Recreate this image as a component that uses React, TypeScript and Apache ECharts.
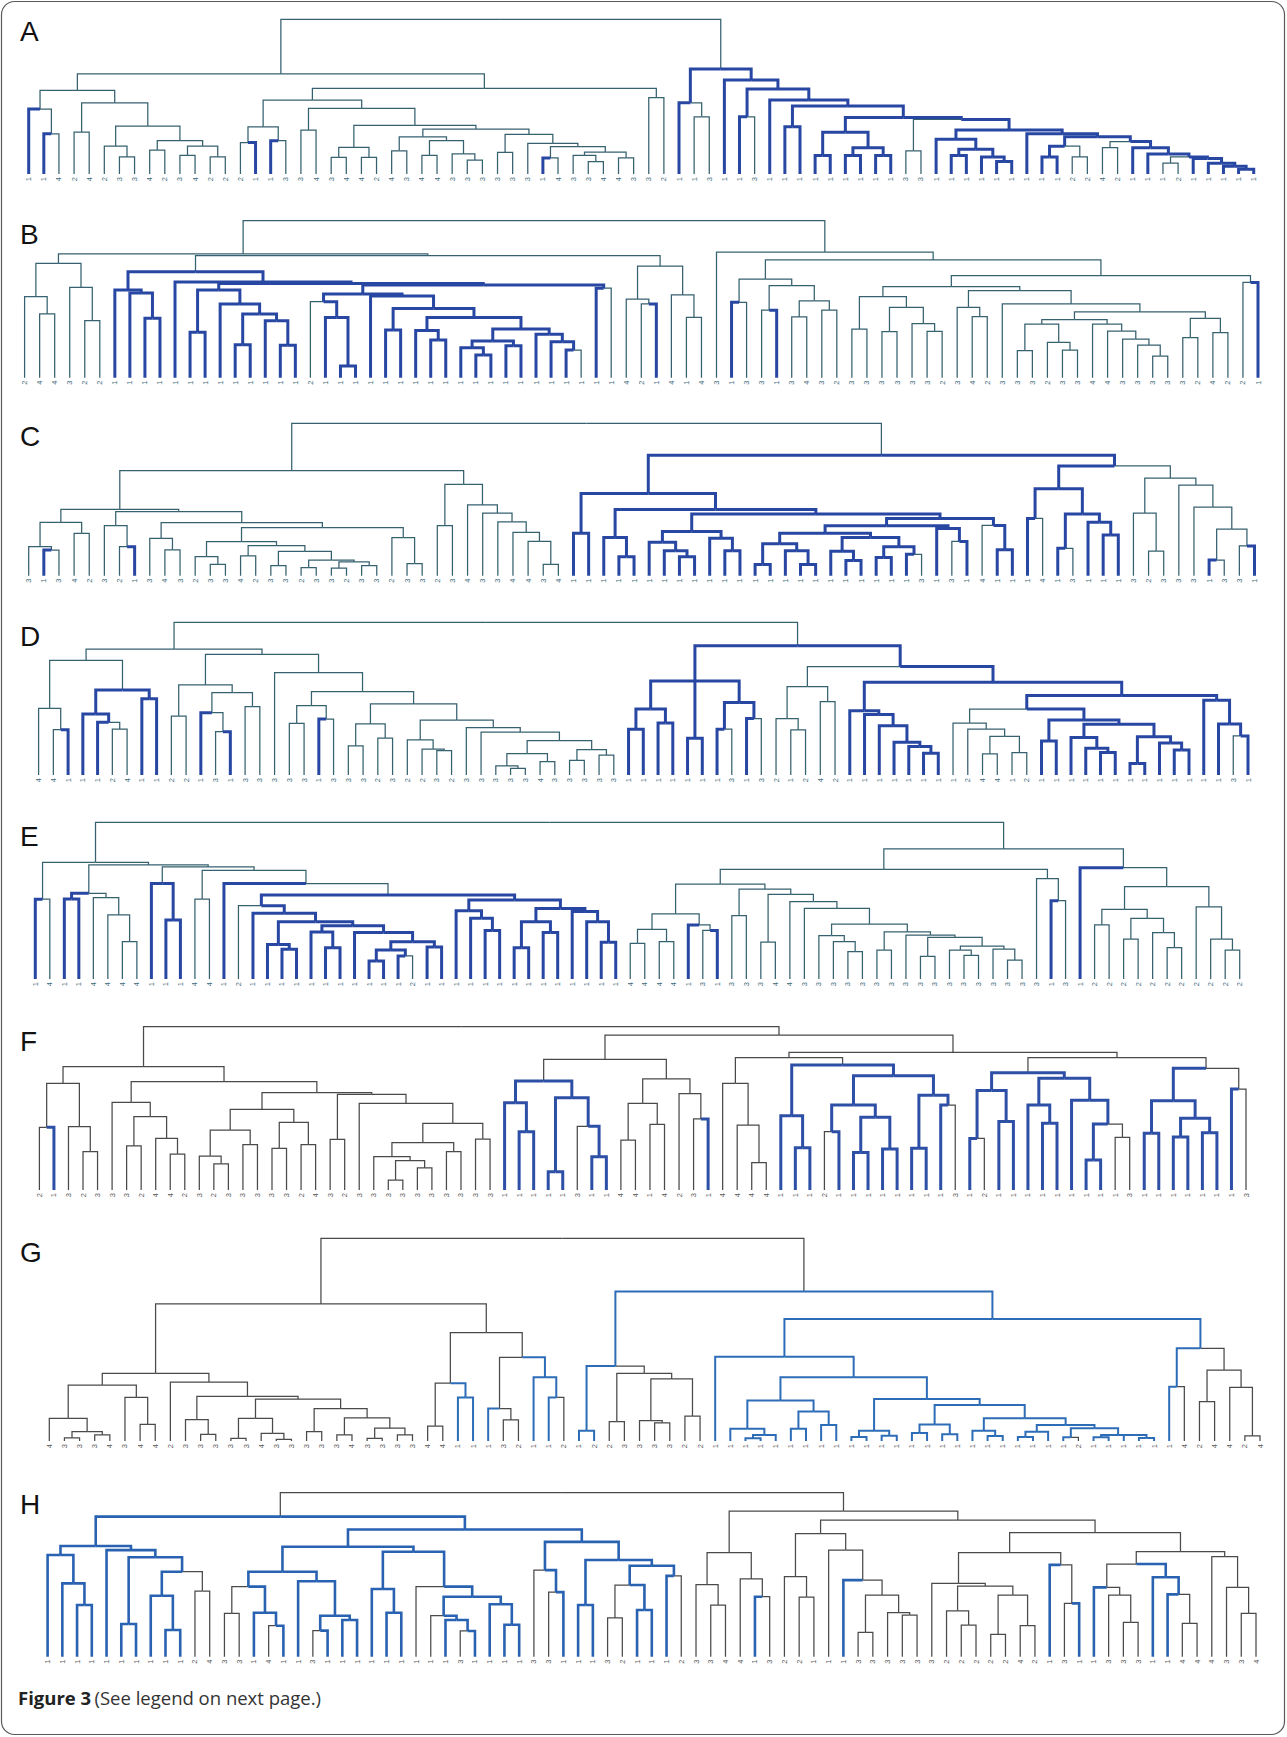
import React, { useEffect, useRef } from "react";
import * as echarts from "echarts";

// Tree notation: (height child child ...), leaves are class labels 1-4.
// "*" marks a subtree drawn in blue, "~" marks a subtree drawn in the plain colour.

// ---------- A ----------
const treeA_L1 = "(54 (42 *1 (26 *1 4)) (46 (27 2 4) (31 (18 2 (11 3 3)) (21.5 (15.5 4 2) (18 (12 3 4) (11 2 2))))))";
const treeA_L2 =
  "(55.4 (47.8 (30.4 (20.3 2 *1) (21.5 *1 3)) (42.5 (28.4 3 4) (31.5 (17.2 (10.8 3 4) (10.8 4 2)) (29 (24 (15 4 3) (21.5 (12 4 4) (13 3 (9 3 3)))) (25.6 (14 3 3) (19.8 3 (17.7 (10.4 *1 4) (14.2 (12 3 (8 3 4)) (10.5 4 3" +
  ")))))))))" +
  " (49.3 3 2))";
const treeA_R =
  "(67.9 *(46 1 ~(37 1 3)) *(60.8 1 (55 (37 1 ~3) (47.8 1 (44 (30.6 1 1) (36.6 (27 (12 1 1) (17 (12 1 1) (12 1 1))) (35.3 ~(15 3 3) (28.4 (22.4 1 (16 (12 1 1) (11 1 (8 1 1)))) (26 1 (24 (18 (11 1 1) ~(11 2 2)) (21 ~(17 4 2) (17 1 (13 1 (11 ~(7 1 2) (10 1 (7 1 (5 1 (3 1 1" +
  "))))))))))))))))))";
const treeA = "(100 (64.7 " + treeA_L1 + " " + treeA_L2 + ") " + treeA_R + ")";

// ---------- B ----------
const treeB_L1 = "(72.8 (51.6 2 (40.6 4 4)) (57.5 3 (36.3 2 2)))";
const treeB_L2a = "(55.8 (28.9 1 1) (47 1 (40.6 (21 1 1) (36.3 1 (20.6 1 1)))))";
const treeB_L2d =
  "(52 1 (44 (30.4 1 1) (38.4 (30 1 (24 1 1)) (31 (23.4 (19 1 (14.4 1 1)) (20.4 1 1)) (27.6 1 (22.9 1 (17.6 1 ~1)))))))";
const treeB_L2b = "(59 (53.3 (48.4 ~2 (38.4 1 (7.4 1 1))) " + treeB_L2d + ") (57 1 ~1))";
const treeB_L2 = "(67.5 *(55.8 1 (54 1 (37.8 1 1))) *(61 1 (60 " + treeB_L2a + " " + treeB_L2b + ")))";
const treeB_L3 = "(71 (50 4 (47 2 *1)) (52.7 4 (38.4 1 4)))";
const treeB_R1 = "(62.8 (48 *1 3) (58.6 (43 3 *1) (49 (38.7 3 4) (43 3 2))))";
const treeB_R2a = "(51.6 (31 3 3) (44.8 (29.3 3 3) (34.4 3 (29.5 3 2))))";
const treeB_R2b =
  "(55.4 (44.8 3 (38.9 4 2)) (47 3 (42 (37 (34.2 (17.2 3 3) (22.5 2 (17.6 3 3))) (34.2 4 (29.7 4 (24.6 3 (20.8 3 (13.8 3 3" +
  ")))))) (37.8 (25.5 3 2) (28.7 4 2)))))";
const treeB =
  "(100 (78.8 " + treeB_L1 + " (77.7 " + treeB_L2 + " " + treeB_L3 + ")) (80 3 (75 " + treeB_R1 +
  " (65 (58 " + treeB_R2a + " " + treeB_R2b + ") (60.7 2 *1)))))";

// ---------- C ----------
const treeC_L1a = "(22.3 (12.5 2 (7.4 3 3)) (19.7 (13 4 2) (16 (6.6 3 3) (10.3 (5.3 2 3) (9 (5 3 2) (6.6 3 3))))))";
const treeC_L1 =
  "(43.5 (35 (19 3 (16.8 *1 3)) (27.8 4 2)) (42 (32.8 3 (19 2 *1)) (34.8 (24.5 3 (17 4 3)) (31.5 " + treeC_L1a + " (25 2 (8 3 3))))))";
const treeC_L2 = "(60 (32.8 2 3) (46.4 4 (41 3 (35.4 3 (28.4 4 (22.5 4 (7.5 3 4)))))))";
const treeC_R1a = "(29 (21.9 1 (16.4 1 (12.5 1 1))) (24.5 1 (16.4 1 1)))";
const treeC_R1b =
  "(37.6 (32.8 (27.8 (21 (7.4 1 1) (16.4 1 (7.4 1 1))) (25 (16 1 (10 1 1)) (19 (12 1 1) (14 1 ~3)))) (31 1 (22.5 ~3 1))) (33 ~4 (17 1 1)))";
const treeC_R1 = "(54 (27.8 1 1) (43.5 (25 1 (12.5 1 1)) (40.5 " + treeC_R1a + " " + treeC_R1b + ")))";
const treeC_R2a = "(57 (37.6 1 ~4) (40.5 (18 1 ~3) (35 1 (26.7 1 1))))";
const treeC_R2b = "(64 (41 3 (16.2 2 3)) (59.5 3 (45 3 (30.6 (10.3 *1 3) (19.5 3 *1)))))";
const treeC =
  "(100 (68.9 " + treeC_L1 + " " + treeC_L2 + ") (79 *" + treeC_R1 + " *(72 " + treeC_R2a + " ~" + treeC_R2b + ")))";

// ---------- D ----------
const treeD_L1 = "(75 (43.7 4 (29.7 4 *1)) (55.7 *(40 1 (34.5 1 ~(30 2 4))) *(50 1 1)))";
const treeD_L2 =
  "(79 (59 (38.6 2 2) (54 (40.8 *1 (28.4 3 *1)) (44.8 3 3))) (67 3 (54.6 (45.4 (33.8 3 3) (36.6 *1 3)) (46.5 (33.4 (19 3 3) (24.2 2 3)) (36 (23 2 (17 2 (16 3 2))) (31 3 (28 3 (22.5 (14 (5.9 3 (4.4 3 3)) (8.7 4 3)) (16.6 (9.6 3 3) (13 3 3" +
  "))))))))))";
const treeD_R1 = "(61.6 (43.2 (30 1 1) (34 1 1)) (24 1 1) (47.4 (30 1 ~3) (37 1 ~3)))";
const treeD_R2b = "(42 1 (39.7 1 (32.3 1 (21.4 1 (18.6 1 (14.2 1 1))))))";
const treeD_R2c =
  "(52 (43.2 ~(34 1 (30 2 (25.3 (13.8 4 4) (14.6 1 2)))) (36 (22.3 1 1) (33.2 (24.5 1 (17.5 1 (14.8 1 1))) (25 (7.6 1 1) (21 1 (16.4 1 1" +
  ")))))) (49 1 (33.4 1 (25.6 ~3 1))))";
const treeD =
  "(100 (82.5 " + treeD_L1 + " " + treeD_L2 + ") (84.7 *" + treeD_R1 +
  " *(71 ~(57.9 (37 2 (29.5 1 2)) (48 4 2)) (60.7 " + treeD_R2b + " " + treeD_R2c + "))))";

// ---------- E ----------
const treeE_L1 = "(54.7 *(51 1 1) (52 4 (40.9 4 (23.8 4 4))))";
const treeE_L2 = "(60.9 *1 *(37.7 1 1))";
const treeE_L3a =
  "(46.8 ~2 (42 1 (36.6 (22 1 (19 1 1)) (34 (30 1 (20 1 1)) (29.6 1 (23.8 (18.5 (11.5 1 1) (14.7 1 ~2)) (20.4 1 1" +
  ")))))))";
const treeE_L3b = "(50.4 (43.6 1 (38.7 1 (31 1 1))) (45 (36.6 (20 1 1) (29.6 1 1)) (43 1 (36.6 1 (23.4 1 1)))))";
const treeE_L =
  "(74.5 (50.9 *1 4) (72.8 " + treeE_L1 + " (71.5 " + treeE_L2 + " (69.4 (51 4 4) (60.9 *1 (53.6 *" + treeE_L3a + " *" + treeE_L3b +
  "))))))";
const treeE_R1a = "(41.5 (31.7 (22.8 4 4) (23.8 4 4)) (34.5 *1 (31 3 *1)))";
const treeE_R1c = "(27.7 3 (23.8 3 (17.5 3 3)))";
const treeE_R1d = "(30 (18.5 3 3) (28 3 (26.6 (14.5 3 3) (21 (18.5 3 (15 3 3)) (19 3 (12 3 3))))))";
const treeE_R1b = "(57.4 (40.4 3 3) (54 (23.6 3 4) (49.4 4 (45 3 (35 " + treeE_R1c + " " + treeE_R1d + ")))))";
const treeE_R2 = "(71 *1 (59 (44.5 (34.5 2 2) (38.7 (25.5 2 2) (29.6 2 (20 2 2)))) (46 2 (25.5 2 (18.5 2 2)))))";
const treeE =
  "(100 " + treeE_L + " (83 (70 (60.6 " + treeE_R1a + " " + treeE_R1b + ") (64 3 (50 *1 3))) " + treeE_R2 + "))";

// ---------- F ----------
const treeF_L1 = "(53.7 3 (45 (27 3 2) (31.6 4 (22 4 2))))";
const treeF_L2 =
  "(59.6 (49.4 (36.7 (20.8 3 (16 2 3)) (27.8 3 3)) (41.4 (25.5 3 3) (27.8 2 4))) (58.6 (31 3 2) (53 3 (40.8 (29 (20.4 3 (18 (6.1 3 3) (13.5 3 3))) (23.5 3 3)) (31.2 3 3)))))";
const treeF_R1 =
  "(80 (66.7 *(53.5 1 (35.7 1 1)) *(56.5 (11.2 1 1) (39 ~3 (20.4 1 1)))) (68 (53 (30.6 4 4) (40.2 1 4)) (59 2 (43.5 ~3 *1))))";
const treeF_R2 =
  "(81 (65.3 4 (39.8 4 (16.7 4 4))) (76.5 *(45.5 1 (25.9 1 1)) *(70 (52 (35.7 ~2 1) (44.5 (22.9 1 1) (25.1 1 1))) (58 (25.5 1 1) (52 1 ~3)))))";
const treeF_R3 =
  "(81 (71.8 *(61 (31.6 1 ~2) (42 1 1)) *(68.4 (52 1 (40.8 1 1)) (55 1 (40.4 (18.4 1 1) ~(32.2 1 3))))) (74.5 *(54.7 (34.7 1 1) (43.9 (32.4 1 1) (35 1 1))) (61.8 *1 ~3)))";
const treeF =
  "(100 (75.5 (65.3 (38.4 2 *1) (38.8 3 (23.5 2 3))) (66.3 " + treeF_L1 + " " + treeF_L2 + ")) (94.9 " + treeF_R1 +
  " (84.3 " + treeF_R2 + " " + treeF_R3 + ")))";

// ---------- G ----------
const treeG_L1 =
  "(33.4 (27.6 (11.2 4 (4.6 (1.6 3 3) (3 3 4))) (21.5 3 (8.2 4 4))) (29 2 (22 (10.5 3 (3.3 3 3)) (20.6 (11.2 (1.3 3 3) (3.8 4 (0.8 3 3))) (16 (4.6 3 3) (11.4 (3 3 4) (6.3 (1.3 3 3) (3 3 3" +
  "))))))))";
const treeG_L2 = "(53.5 (28.5 (7.4 4 4) *(21.5 1 1)) (41.3 (16 *1 (10.4 3 2)) *(31.4 1 (21.5 1 ~2))))";
const treeG_R1 = "*(37 (5 1 2) ~(33.4 (9.5 2 3) (30.6 (10 3 (9 3 3)) (12.3 2 2))))";
const treeG_R2a =
  "(31.4 (20 (6 1 (3 (1.3 1 1) 1)) (14.5 (6 1 1) (7.9 1 1))) (20.7 (5.1 (2 1 1) (2.6 1 1)) (17.8 (8.2 (4 1 1) (3.3 1 1)) (11.2 (5.1 1 (2.5 1 1)) (7.9 (4.6 (2 1 1) 1) (6.3 (1.8 1 ~2) (3 (1.8 1 1) (2.9 1 (1.5 1 1" +
  ")))))))))";
const treeG_R2 = "(60.2 (41.6 1 " + treeG_R2a + ") (45.7 (26.8 1 ~4) ~(35 (19.4 2 4) (26.5 4 (2.5 2 4)))))";
const treeG = "(100 (67.6 " + treeG_L1 + " " + treeG_L2 + ") (73.7 " + treeG_R1 + " *" + treeG_R2 + "))";

// ---------- H ----------
const treeH_L1 = "(67.5 (62 1 (44.7 1 (31.5 1 1))) (65 1 (60.6 (19.9 1 1) (51.8 (37.2 1 (16.3 1 1)) ~(40 2 4)))))";
const treeH_L2a = "(51.8 (42.7 ~(26.4 3 3) (26.8 1 (18.9 ~4 1))) (46 1 (25 (15.9 ~3 1) (22.4 1 1))))";
const treeH_L2b = "(64 (41.3 1 (26.8 1 1)) (42.7 ~1 (36.6 (25 ~1 (22.4 1 (15.7 ~3 1))) (32 1 (19.5 1 1)))))";
const treeH_L2c = "(52.8 ~3 (39.4 ~3 1))";
const treeH_L2d = "(59 (31.5 1 1) (55.5 (43.7 ~(23.6 3 2) (28.5 1 1)) (49.3 1 ~2)))";
const treeH_L2 = "(77.6 (67 " + treeH_L2a + " " + treeH_L2b + ") (70 " + treeH_L2c + " " + treeH_L2d + "))";
const treeH_R1 = "(63.4 (44 3 (31.5 3 4)) (47.4 4 (36.6 *1 3)))";
const treeH_R2 = "(75 (48.8 2 (36.4 2 1)) (65 1 (46.7 *1 (37.6 (14.9 3 3) (26.8 3 (25.4 3 3))))))";
const treeH_R3 =
  "(75.6 (63.4 (44.7 3 (43 (28 2 (19.3 2 2)) (37.6 (13.6 2 2) (18.9 4 2)))) (56 *1 (32.5 3 *1))) (64 (56.5 (42.3 *1 (37.6 3 (21 3 3))) *(48.4 1 (38 1 ~(20.3 4 4)))) (61 4 (42.3 3 (26.4 3 4)))))";
const treeH =
  "(100 (85.4 *" + treeH_L1 + " *" + treeH_L2 + ") (88.8 " + treeH_R1 + " (83.3 " + treeH_R2 + " " + treeH_R3 + ")))";

const panelLetters = ["A", "B", "C", "D", "E", "F", "G", "H"];
const panelTrees = [treeA, treeB, treeC, treeD, treeE, treeF, treeG, treeH];
const captionBold = "Figure 3";
const captionRest = "(See legend on next page.)";

// layout (pixels)
const PANEL_BOXES = [
  { x0: 28.7, x1: 1253.7, top: 19.3, base: 174, letterY: 31 },
  { x0: 24.6, x1: 1258, top: 220.7, base: 377.7, letterY: 234 },
  { x0: 28.7, x1: 1254.5, top: 423.3, base: 575.7, letterY: 436 },
  { x0: 38.6, x1: 1248, top: 622.3, base: 775, letterY: 636 },
  { x0: 35.3, x1: 1239.7, top: 822.3, base: 979, letterY: 836 },
  { x0: 39.4, x1: 1246, top: 1026.7, base: 1190, letterY: 1041 },
  { x0: 49.3, x1: 1260, top: 1238.3, base: 1441, letterY: 1252 },
  { x0: 47.6, x1: 1256, top: 1492.7, base: 1656.7, letterY: 1504 },
];
const TEAL = "#36616f";
const TEAL_LABEL = "#3f6d7b";
const GRAY = "#4a4a4a";
const GRAY_LABEL = "#5a5a5a";
const PANEL_STYLES = [
  { plain: TEAL, label: TEAL_LABEL, blue: "#2847a3", blueW: 3 },
  { plain: TEAL, label: TEAL_LABEL, blue: "#2847a3", blueW: 3 },
  { plain: TEAL, label: TEAL_LABEL, blue: "#2847a3", blueW: 3 },
  { plain: TEAL, label: TEAL_LABEL, blue: "#2847a3", blueW: 3 },
  { plain: TEAL, label: TEAL_LABEL, blue: "#2847a3", blueW: 3 },
  { plain: GRAY, label: GRAY_LABEL, blue: "#2d4fa6", blueW: 3 },
  { plain: GRAY, label: GRAY_LABEL, blue: "#2d6cb6", blueW: 2 },
  { plain: GRAY, label: GRAY_LABEL, blue: "#2a62b2", blueW: 2.6 },
];

type TNode = { h: number; c: TNode[]; leaf?: string; blue: boolean; x: number };

function parseTree(s: string): TNode {
  const toks = s.match(/[()*~]|[0-9.]+/g) || [];
  let i = 0;
  function parse(inherit: boolean): TNode {
    let blue = inherit;
    if (toks[i] === "*") {
      blue = true;
      i++;
    } else if (toks[i] === "~") {
      blue = false;
      i++;
    }
    if (toks[i] === "(") {
      i++;
      const h = parseFloat(toks[i++]);
      const c: TNode[] = [];
      while (i < toks.length && toks[i] !== ")") c.push(parse(blue));
      i++;
      return { h, c, blue, x: 0 };
    }
    const leaf = toks[i++];
    return { h: 0, c: [], leaf, blue, x: 0 };
  }
  return parse(false);
}

function layoutTree(src: string) {
  const root = parseTree(src);
  const labels: string[] = [];
  const place = (n: TNode) => {
    if (!n.c.length) {
      n.x = labels.length;
      labels.push(n.leaf || "");
      return;
    }
    n.c.forEach(place);
    n.x = (n.c[0].x + n.c[n.c.length - 1].x) / 2;
  };
  place(root);
  const plain: number[][] = [];
  const blue: number[][] = [];
  const walk = (n: TNode) => {
    n.c.forEach((ch) => {
      (ch.blue ? blue : plain).push([n.x, n.h, ch.x, ch.h]);
      walk(ch);
    });
  };
  walk(root);
  return { labels, plain, blue };
}

function makeRender(color: string, width: number) {
  return (_params: any, api: any) => {
    const p0 = api.coord([api.value(0), api.value(1)]);
    const p1 = api.coord([api.value(2), api.value(1)]);
    const p2 = api.coord([api.value(2), api.value(3)]);
    return {
      type: "polyline",
      shape: { points: [p0, p1, p2] },
      style: { stroke: color, lineWidth: width, fill: null, lineJoin: "miter" },
    };
  };
}

function buildOption() {
  const grid: any[] = [];
  const xAxis: any[] = [];
  const yAxis: any[] = [];
  const series: any[] = [];
  const graphic: any[] = [];

  graphic.push({
    type: "rect",
    shape: { x: 1.5, y: 1.5, width: 1283, height: 1733, r: 13 },
    style: { fill: "none", stroke: "#5a5a5a", lineWidth: 1.2 },
    silent: true,
  });

  panelTrees.forEach((src, i) => {
    const box = PANEL_BOXES[i];
    const st = PANEL_STYLES[i];
    const { labels, plain, blue } = layoutTree(src);
    grid.push({ left: box.x0, top: box.top, width: box.x1 - box.x0, height: box.base - box.top, containLabel: false });
    xAxis.push({
      gridIndex: i,
      type: "value",
      min: 0,
      max: labels.length - 1,
      interval: 1,
      axisLine: { show: false },
      axisTick: { show: false },
      splitLine: { show: false },
      axisLabel: {
        show: true,
        rotate: 90,
        fontSize: 7.5,
        margin: 3,
        color: st.label,
        fontFamily: "Liberation Sans",
        showMinLabel: true,
        showMaxLabel: true,
        formatter: (v: number) => labels[Math.round(v)] ?? "",
      },
    });
    yAxis.push({ gridIndex: i, type: "value", min: 0, max: 100, show: false });
    series.push({
      type: "custom",
      xAxisIndex: i,
      yAxisIndex: i,
      clip: false,
      silent: true,
      z: 2,
      encode: { x: [0, 2], y: [1, 3] },
      data: plain,
      renderItem: makeRender(st.plain, 1.25),
    });
    series.push({
      type: "custom",
      xAxisIndex: i,
      yAxisIndex: i,
      clip: false,
      silent: true,
      z: 3,
      encode: { x: [0, 2], y: [1, 3] },
      data: blue,
      renderItem: makeRender(st.blue, st.blueW),
    });
    graphic.push({
      type: "text",
      x: 20,
      y: box.letterY,
      silent: true,
      style: {
        text: panelLetters[i],
        fontSize: 28,
        fontFamily: "Liberation Sans",
        fill: "#111",
        verticalAlign: "middle",
        align: "left",
      },
    });
  });

  graphic.push({
    type: "text",
    x: 18,
    y: 1697,
    silent: true,
    style: {
      text: "{b|" + captionBold + "} {n|" + captionRest + "}",
      verticalAlign: "middle",
      align: "left",
      rich: {
        b: { fontSize: 18.5, fontWeight: "bold", fontFamily: "Open Sans", fill: "#222" },
        n: { fontSize: 18.5, fontFamily: "Open Sans", fill: "#333" },
      },
    },
  });

  return { animation: false, backgroundColor: "#ffffff", grid, xAxis, yAxis, series, graphic };
}

export default function App() {
  const ref = useRef<HTMLDivElement>(null);
  useEffect(() => {
    if (!ref.current) return;
    const chart = echarts.init(ref.current, null, { renderer: "svg" });
    chart.setOption(buildOption() as any);
    return () => chart.dispose();
  }, []);
  return (
    <div
      ref={ref}
      style={{ position: "absolute", left: 0, top: 0, width: 1287, height: 1737, background: "#fff" }}
    />
  );
}
